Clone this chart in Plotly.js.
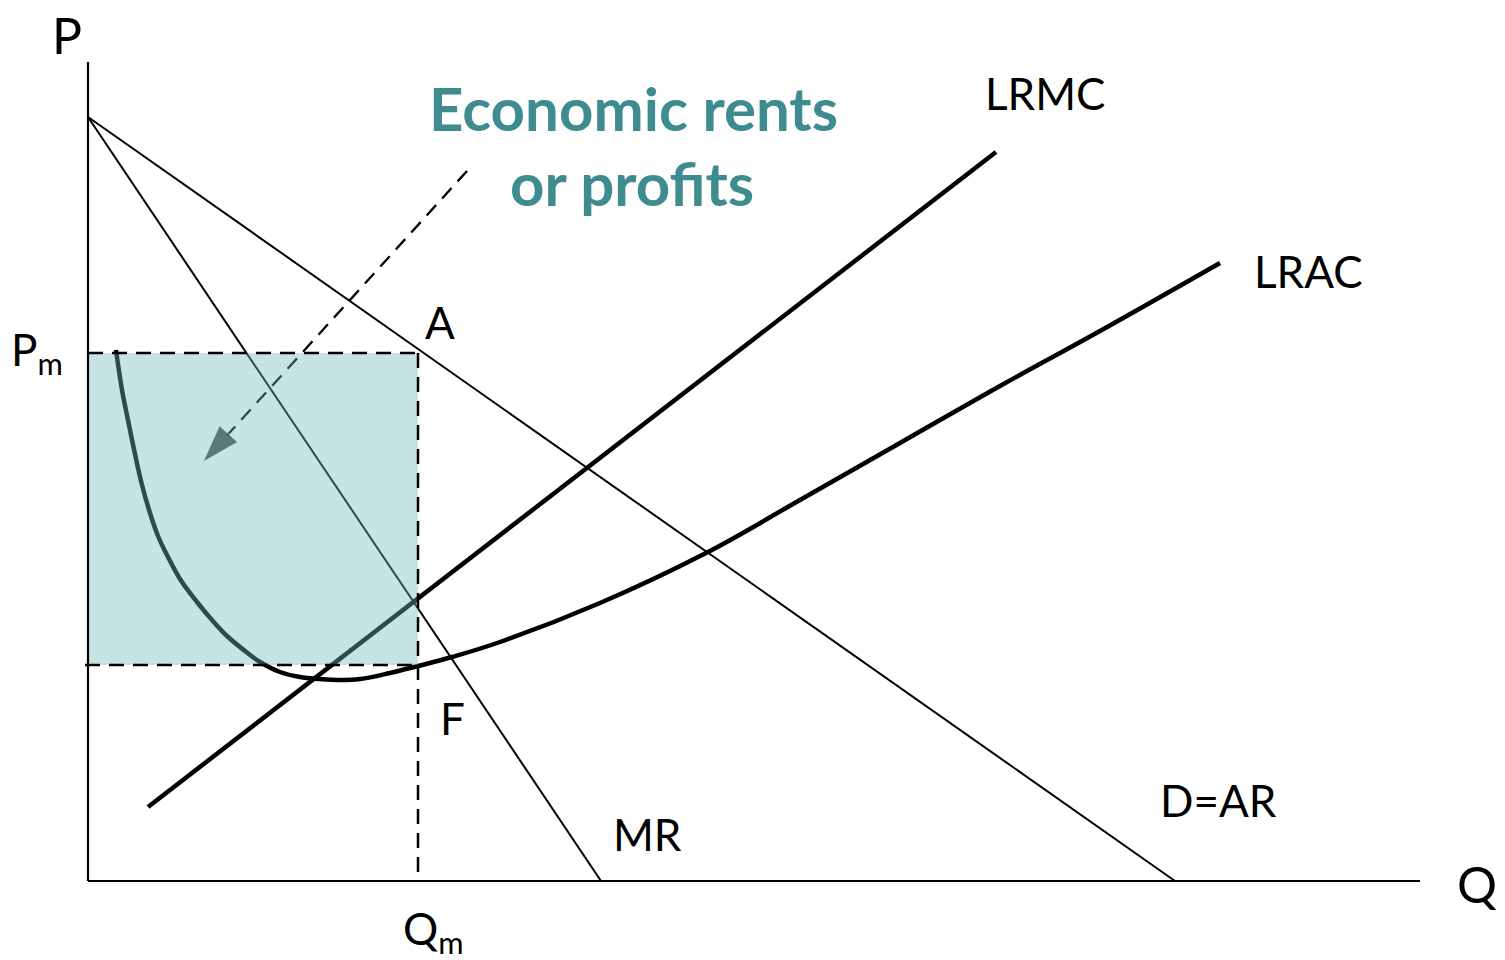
<!DOCTYPE html>
<html>
<head>
<meta charset="utf-8">
<script src="https://cdn.plot.ly/plotly-3.0.1.min.js"></script>
<style>html,body{margin:0;padding:0;background:#fff;}#chart{width:1505px;height:960px;}</style>
</head>
<body>
<div id="chart"></div>
<script>
// ---- Data (quantity Q, price P in diagram units) ----
const demandQ = [0, 108.7];
const demandP = [76.4, 0];
const mrQ = [0, 51.3];
const mrP = [76.4, 0];
const lrmcQ = [6.0, 90.8];
const lrmcP = [7.4, 72.9];
const lracQ = [2.8, 3.4, 4.0, 4.7, 5.4, 6.2, 7.0, 7.9, 9.2, 10.9, 12.4, 13.9, 15.7, 17.2, 19.2, 21.2, 23.2, 25.0, 27.2, 30.2, 33.0, 36.4, 41.2, 51.2, 61.8, 71.2, 81.2, 91.2, 101.2, 113.2];
const lracP = [53.1, 49.1, 46.1, 42.7, 39.6, 36.8, 34.5, 32.6, 30.2, 27.9, 26.1, 24.5, 23.0, 21.9, 20.9, 20.4, 20.2, 20.1, 20.2, 20.8, 21.5, 22.4, 23.9, 27.8, 32.8, 38.1, 43.8, 49.5, 55.0, 61.8];
const Qm = 33.0;
const Pm = 52.8;
const ACm = 21.6;
const arrowQ = [37.9, 11.5];
const arrowP = [71.0, 41.9];
const axisQmax = 133.2;
const axisPmax = 81.9;

const labelText = ["P", "Q", "P<sub>m</sub>", "Q<sub>m</sub>", "A", "F", "MR", "D=AR", "LRMC", "LRAC"];
const labelQ = [-2.1, 138.9, -5.1, 34.5, 35.2, 36.4, 55.9, 113.0, 95.7, 122.0];
const labelP = [84.6, -0.3, 52.9, -5.0, 55.9, 16.3, 4.7, 8.1, 78.8, 61.0];
const titleLines = ["Economic rents", "or profits"];
const titleQ = [54.5, 54.4];
const titleP = [77.3, 69.8];

const FONT = "Lato, 'Open Sans', sans-serif";

const traces = [
  {x: demandQ, y: demandP, mode: "lines", line: {color: "#000", width: 2}, hoverinfo: "skip"},
  {x: mrQ, y: mrP, mode: "lines", line: {color: "#000", width: 2}, hoverinfo: "skip"},
  {x: lrmcQ, y: lrmcP, mode: "lines", line: {color: "#000", width: 4.5}, hoverinfo: "skip"},
  {x: lracQ, y: lracP, mode: "lines", line: {color: "#000", width: 4.5, shape: "spline", smoothing: 1.1}, hoverinfo: "skip"},
  {x: arrowQ, y: arrowP, mode: "lines+markers", line: {color: "#000", width: 2.3, dash: "14px,9px"},
   marker: {symbol: "arrow", angleref: "previous", size: [0, 40], color: "#000"}, hoverinfo: "skip"}
];

const DASH = "15px,9px";
const shapes = [
  {type: "rect", xref: "x", yref: "y", x0: 0, x1: Qm, y0: ACm, y1: Pm, layer: "above",
   fillcolor: "rgba(115,187,188,0.4)", line: {width: 0}},
  {type: "line", xref: "x", yref: "y", x0: 0, x1: Qm, y0: Pm, y1: Pm, layer: "above", line: {color: "#000", width: 2.5, dash: DASH}},
  {type: "line", xref: "x", yref: "y", x0: Qm, x1: Qm, y0: Pm, y1: 0, layer: "above", line: {color: "#000", width: 2.5, dash: DASH}},
  {type: "line", xref: "x", yref: "y", x0: -0.3, x1: Qm, y0: ACm, y1: ACm, layer: "above", line: {color: "#000", width: 2.5, dash: DASH}},
  {type: "line", xref: "x", yref: "y", x0: 0, x1: 0, y0: 0, y1: axisPmax, layer: "above", line: {color: "#000", width: 2.2}},
  {type: "line", xref: "x", yref: "y", x0: 0, x1: axisQmax, y0: 0, y1: 0, layer: "above", line: {color: "#000", width: 2.2}}
];

const annotations = [];
labelText.forEach((t, i) => {
  annotations.push({x: labelQ[i], y: labelP[i], xref: "x", yref: "y", text: t, showarrow: false,
    xanchor: "center", yanchor: "middle", font: {family: FONT, size: (t === "P" || t === "Q") ? 50 : 44, color: "#000"}});
});
titleLines.forEach((t, i) => {
  annotations.push({x: titleQ[i], y: titleP[i], xref: "x", yref: "y", text: "<b>" + t + "</b>", showarrow: false,
    xanchor: "center", yanchor: "middle", font: {family: FONT, size: 60, color: "#3e8b90"}});
});

const layout = {
  width: 1505, height: 960, autosize: false,
  margin: {l: 0, r: 0, t: 0, b: 0, pad: 0},
  paper_bgcolor: "#fff", plot_bgcolor: "#fff",
  showlegend: false,
  xaxis: {range: [-8.8, 141.7], visible: false, fixedrange: true},
  yaxis: {range: [-7.9, 88.1], visible: false, fixedrange: true},
  shapes: shapes,
  annotations: annotations
};

Plotly.newPlot("chart", traces, layout, {displayModeBar: false, staticPlot: true});
</script>
</body>
</html>
